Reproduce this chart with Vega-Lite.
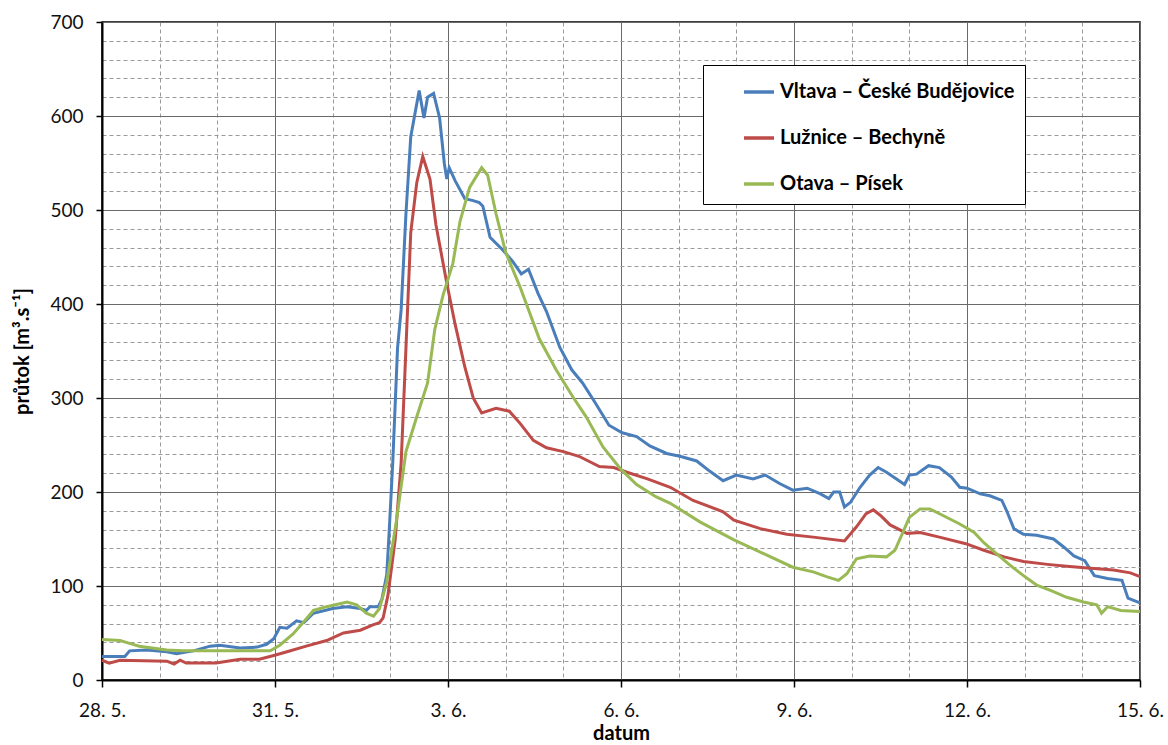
{
  "$schema": "https://vega.github.io/schema/vega-lite/v6.json",
  "width": 1038,
  "height": 658,
  "autosize": {"type": "none"},
  "padding": {"left": 102, "top": 22, "right": 28, "bottom": 65},
  "background": "white",
  "config": {
    "font": "Lato",
    "view": {"stroke": "#000", "strokeWidth": 1.5},
    "axis": {"labelFont": "Lato", "labelFontSize": 19, "labelColor": "#111", "titleFont": "Lato", "titleFontSize": 20, "titleFontWeight": "bold", "titleColor": "#000"},
    "legend": {"labelFont": "Lato"}
  },
  "data": {"values": [
    {"s": "Vltava – České Budějovice", "t": "2013-05-28T00:00", "q": 25},
    {"s": "Vltava – České Budějovice", "t": "2013-05-28T09:30", "q": 25},
    {"s": "Vltava – České Budějovice", "t": "2013-05-28T11:30", "q": 31},
    {"s": "Vltava – České Budějovice", "t": "2013-05-28T18:30", "q": 32},
    {"s": "Vltava – České Budějovice", "t": "2013-05-29T03:00", "q": 30},
    {"s": "Vltava – České Budějovice", "t": "2013-05-29T07:00", "q": 28},
    {"s": "Vltava – České Budějovice", "t": "2013-05-29T14:00", "q": 31},
    {"s": "Vltava – České Budějovice", "t": "2013-05-29T21:00", "q": 36},
    {"s": "Vltava – České Budějovice", "t": "2013-05-30T01:00", "q": 37},
    {"s": "Vltava – České Budějovice", "t": "2013-05-30T09:30", "q": 34},
    {"s": "Vltava – České Budějovice", "t": "2013-05-30T16:30", "q": 35},
    {"s": "Vltava – České Budějovice", "t": "2013-05-30T20:30", "q": 38},
    {"s": "Vltava – České Budějovice", "t": "2013-05-30T23:30", "q": 44},
    {"s": "Vltava – České Budějovice", "t": "2013-05-31T02:00", "q": 56},
    {"s": "Vltava – České Budějovice", "t": "2013-05-31T05:00", "q": 55},
    {"s": "Vltava – České Budějovice", "t": "2013-05-31T09:00", "q": 63},
    {"s": "Vltava – České Budějovice", "t": "2013-05-31T12:00", "q": 61},
    {"s": "Vltava – České Budějovice", "t": "2013-05-31T16:00", "q": 71},
    {"s": "Vltava – České Budějovice", "t": "2013-06-01T00:00", "q": 76},
    {"s": "Vltava – České Budějovice", "t": "2013-06-01T06:00", "q": 78},
    {"s": "Vltava – České Budějovice", "t": "2013-06-01T11:30", "q": 76},
    {"s": "Vltava – České Budějovice", "t": "2013-06-01T14:00", "q": 74},
    {"s": "Vltava – České Budějovice", "t": "2013-06-01T15:30", "q": 78},
    {"s": "Vltava – České Budějovice", "t": "2013-06-01T19:00", "q": 78},
    {"s": "Vltava – České Budějovice", "t": "2013-06-01T20:30", "q": 86},
    {"s": "Vltava – České Budějovice", "t": "2013-06-01T22:30", "q": 112},
    {"s": "Vltava – České Budějovice", "t": "2013-06-01T23:30", "q": 157},
    {"s": "Vltava – České Budějovice", "t": "2013-06-02T01:00", "q": 231},
    {"s": "Vltava – České Budějovice", "t": "2013-06-02T03:00", "q": 353},
    {"s": "Vltava – České Budějovice", "t": "2013-06-02T04:30", "q": 394},
    {"s": "Vltava – České Budějovice", "t": "2013-06-02T06:30", "q": 496},
    {"s": "Vltava – České Budějovice", "t": "2013-06-02T08:30", "q": 578},
    {"s": "Vltava – České Budějovice", "t": "2013-06-02T10:30", "q": 606},
    {"s": "Vltava – České Budějovice", "t": "2013-06-02T12:00", "q": 627},
    {"s": "Vltava – České Budějovice", "t": "2013-06-02T14:00", "q": 598},
    {"s": "Vltava – České Budějovice", "t": "2013-06-02T15:30", "q": 620},
    {"s": "Vltava – České Budějovice", "t": "2013-06-02T18:00", "q": 624},
    {"s": "Vltava – České Budějovice", "t": "2013-06-02T20:30", "q": 598},
    {"s": "Vltava – České Budějovice", "t": "2013-06-02T22:30", "q": 549},
    {"s": "Vltava – České Budějovice", "t": "2013-06-02T23:30", "q": 533},
    {"s": "Vltava – České Budějovice", "t": "2013-06-03T00:30", "q": 545},
    {"s": "Vltava – České Budějovice", "t": "2013-06-03T03:00", "q": 531},
    {"s": "Vltava – České Budějovice", "t": "2013-06-03T07:00", "q": 512},
    {"s": "Vltava – České Budějovice", "t": "2013-06-03T10:30", "q": 510},
    {"s": "Vltava – České Budějovice", "t": "2013-06-03T13:00", "q": 508},
    {"s": "Vltava – České Budějovice", "t": "2013-06-03T14:30", "q": 504},
    {"s": "Vltava – České Budějovice", "t": "2013-06-03T17:30", "q": 471},
    {"s": "Vltava – České Budějovice", "t": "2013-06-03T23:00", "q": 457},
    {"s": "Vltava – České Budějovice", "t": "2013-06-04T03:00", "q": 445},
    {"s": "Vltava – České Budějovice", "t": "2013-06-04T06:30", "q": 432},
    {"s": "Vltava – České Budějovice", "t": "2013-06-04T09:30", "q": 437},
    {"s": "Vltava – České Budějovice", "t": "2013-06-04T13:30", "q": 411},
    {"s": "Vltava – České Budějovice", "t": "2013-06-04T17:00", "q": 392},
    {"s": "Vltava – České Budějovice", "t": "2013-06-04T22:30", "q": 354},
    {"s": "Vltava – České Budějovice", "t": "2013-06-05T03:30", "q": 330},
    {"s": "Vltava – České Budějovice", "t": "2013-06-05T08:00", "q": 316},
    {"s": "Vltava – České Budějovice", "t": "2013-06-05T13:00", "q": 296},
    {"s": "Vltava – České Budějovice", "t": "2013-06-05T19:00", "q": 271},
    {"s": "Vltava – České Budějovice", "t": "2013-06-06T00:30", "q": 263},
    {"s": "Vltava – České Budějovice", "t": "2013-06-06T06:30", "q": 259},
    {"s": "Vltava – České Budějovice", "t": "2013-06-06T12:00", "q": 249},
    {"s": "Vltava – České Budějovice", "t": "2013-06-06T19:00", "q": 241},
    {"s": "Vltava – České Budějovice", "t": "2013-06-07T00:30", "q": 238},
    {"s": "Vltava – České Budějovice", "t": "2013-06-07T07:30", "q": 233},
    {"s": "Vltava – České Budějovice", "t": "2013-06-07T13:00", "q": 222},
    {"s": "Vltava – České Budějovice", "t": "2013-06-07T18:30", "q": 212},
    {"s": "Vltava – České Budějovice", "t": "2013-06-08T00:00", "q": 218},
    {"s": "Vltava – České Budějovice", "t": "2013-06-08T07:00", "q": 214},
    {"s": "Vltava – České Budějovice", "t": "2013-06-08T12:00", "q": 218},
    {"s": "Vltava – České Budějovice", "t": "2013-06-08T18:00", "q": 209},
    {"s": "Vltava – České Budějovice", "t": "2013-06-08T23:30", "q": 202},
    {"s": "Vltava – České Budějovice", "t": "2013-06-09T05:30", "q": 204},
    {"s": "Vltava – České Budějovice", "t": "2013-06-09T11:00", "q": 198},
    {"s": "Vltava – České Budějovice", "t": "2013-06-09T14:30", "q": 193},
    {"s": "Vltava – České Budějovice", "t": "2013-06-09T16:30", "q": 200},
    {"s": "Vltava – České Budějovice", "t": "2013-06-09T19:00", "q": 200},
    {"s": "Vltava – České Budějovice", "t": "2013-06-09T21:00", "q": 184},
    {"s": "Vltava – České Budějovice", "t": "2013-06-09T23:30", "q": 189},
    {"s": "Vltava – České Budějovice", "t": "2013-06-10T03:30", "q": 205},
    {"s": "Vltava – České Budějovice", "t": "2013-06-10T07:30", "q": 218},
    {"s": "Vltava – České Budějovice", "t": "2013-06-10T11:00", "q": 226},
    {"s": "Vltava – České Budějovice", "t": "2013-06-10T14:30", "q": 221},
    {"s": "Vltava – České Budějovice", "t": "2013-06-10T18:30", "q": 214},
    {"s": "Vltava – České Budějovice", "t": "2013-06-10T22:00", "q": 208},
    {"s": "Vltava – České Budějovice", "t": "2013-06-11T00:00", "q": 218},
    {"s": "Vltava – České Budějovice", "t": "2013-06-11T03:00", "q": 219},
    {"s": "Vltava – České Budějovice", "t": "2013-06-11T08:00", "q": 228},
    {"s": "Vltava – České Budějovice", "t": "2013-06-11T12:30", "q": 226},
    {"s": "Vltava – České Budějovice", "t": "2013-06-11T17:30", "q": 216},
    {"s": "Vltava – České Budějovice", "t": "2013-06-11T21:00", "q": 205},
    {"s": "Vltava – České Budějovice", "t": "2013-06-12T00:00", "q": 204},
    {"s": "Vltava – České Budějovice", "t": "2013-06-12T05:30", "q": 198},
    {"s": "Vltava – České Budějovice", "t": "2013-06-12T09:30", "q": 196},
    {"s": "Vltava – České Budějovice", "t": "2013-06-12T14:30", "q": 191},
    {"s": "Vltava – České Budějovice", "t": "2013-06-12T16:30", "q": 180},
    {"s": "Vltava – České Budějovice", "t": "2013-06-12T19:30", "q": 161},
    {"s": "Vltava – České Budějovice", "t": "2013-06-12T23:30", "q": 155},
    {"s": "Vltava – České Budějovice", "t": "2013-06-13T05:00", "q": 154},
    {"s": "Vltava – České Budějovice", "t": "2013-06-13T12:00", "q": 150},
    {"s": "Vltava – České Budějovice", "t": "2013-06-13T16:30", "q": 141},
    {"s": "Vltava – České Budějovice", "t": "2013-06-13T20:30", "q": 132},
    {"s": "Vltava – České Budějovice", "t": "2013-06-14T01:00", "q": 127},
    {"s": "Vltava – České Budějovice", "t": "2013-06-14T05:00", "q": 111},
    {"s": "Vltava – České Budějovice", "t": "2013-06-14T10:30", "q": 108},
    {"s": "Vltava – České Budějovice", "t": "2013-06-14T16:30", "q": 106},
    {"s": "Vltava – České Budějovice", "t": "2013-06-14T19:00", "q": 87},
    {"s": "Vltava – České Budějovice", "t": "2013-06-15T00:00", "q": 82},

    {"s": "Lužnice – Bechyně", "t": "2013-05-28T00:00", "q": 21},
    {"s": "Lužnice – Bechyně", "t": "2013-05-28T03:00", "q": 18},
    {"s": "Lužnice – Bechyně", "t": "2013-05-28T07:30", "q": 21},
    {"s": "Lužnice – Bechyně", "t": "2013-05-29T03:00", "q": 20},
    {"s": "Lužnice – Bechyně", "t": "2013-05-29T06:00", "q": 17},
    {"s": "Lužnice – Bechyně", "t": "2013-05-29T08:30", "q": 21},
    {"s": "Lužnice – Bechyně", "t": "2013-05-29T11:00", "q": 18},
    {"s": "Lužnice – Bechyně", "t": "2013-05-29T23:30", "q": 18},
    {"s": "Lužnice – Bechyně", "t": "2013-05-30T09:30", "q": 22},
    {"s": "Lužnice – Bechyně", "t": "2013-05-30T17:30", "q": 22},
    {"s": "Lužnice – Bechyně", "t": "2013-05-30T23:30", "q": 26},
    {"s": "Lužnice – Bechyně", "t": "2013-05-31T05:00", "q": 30},
    {"s": "Lužnice – Bechyně", "t": "2013-05-31T13:00", "q": 36},
    {"s": "Lužnice – Bechyně", "t": "2013-05-31T21:30", "q": 42},
    {"s": "Lužnice – Bechyně", "t": "2013-06-01T04:30", "q": 50},
    {"s": "Lužnice – Bechyně", "t": "2013-06-01T11:30", "q": 53},
    {"s": "Lužnice – Bechyně", "t": "2013-06-01T17:00", "q": 59},
    {"s": "Lužnice – Bechyně", "t": "2013-06-01T19:30", "q": 61},
    {"s": "Lužnice – Bechyně", "t": "2013-06-01T21:00", "q": 66},
    {"s": "Lužnice – Bechyně", "t": "2013-06-01T23:00", "q": 90},
    {"s": "Lužnice – Bechyně", "t": "2013-06-02T02:00", "q": 149},
    {"s": "Lužnice – Bechyně", "t": "2013-06-02T04:30", "q": 231},
    {"s": "Lužnice – Bechyně", "t": "2013-06-02T06:30", "q": 353},
    {"s": "Lužnice – Bechyně", "t": "2013-06-02T08:30", "q": 476},
    {"s": "Lužnice – Bechyně", "t": "2013-06-02T11:00", "q": 529},
    {"s": "Lužnice – Bechyně", "t": "2013-06-02T13:30", "q": 557},
    {"s": "Lužnice – Bechyně", "t": "2013-06-02T16:30", "q": 533},
    {"s": "Lužnice – Bechyně", "t": "2013-06-02T19:00", "q": 484},
    {"s": "Lužnice – Bechyně", "t": "2013-06-02T23:30", "q": 422},
    {"s": "Lužnice – Bechyně", "t": "2013-06-03T03:00", "q": 378},
    {"s": "Lužnice – Bechyně", "t": "2013-06-03T07:00", "q": 333},
    {"s": "Lužnice – Bechyně", "t": "2013-06-03T10:30", "q": 300},
    {"s": "Lužnice – Bechyně", "t": "2013-06-03T14:00", "q": 284},
    {"s": "Lužnice – Bechyně", "t": "2013-06-03T20:00", "q": 289},
    {"s": "Lužnice – Bechyně", "t": "2013-06-04T01:30", "q": 286},
    {"s": "Lužnice – Bechyně", "t": "2013-06-04T06:00", "q": 273},
    {"s": "Lužnice – Bechyně", "t": "2013-06-04T11:30", "q": 255},
    {"s": "Lužnice – Bechyně", "t": "2013-06-04T17:00", "q": 247},
    {"s": "Lužnice – Bechyně", "t": "2013-06-05T00:00", "q": 243},
    {"s": "Lužnice – Bechyně", "t": "2013-06-05T06:30", "q": 238},
    {"s": "Lužnice – Bechyně", "t": "2013-06-05T15:00", "q": 227},
    {"s": "Lužnice – Bechyně", "t": "2013-06-05T21:00", "q": 226},
    {"s": "Lužnice – Bechyně", "t": "2013-06-06T02:30", "q": 221},
    {"s": "Lužnice – Bechyně", "t": "2013-06-06T11:00", "q": 214},
    {"s": "Lužnice – Bechyně", "t": "2013-06-06T20:30", "q": 205},
    {"s": "Lužnice – Bechyně", "t": "2013-06-07T06:00", "q": 191},
    {"s": "Lužnice – Bechyně", "t": "2013-06-07T18:30", "q": 179},
    {"s": "Lužnice – Bechyně", "t": "2013-06-07T23:00", "q": 170},
    {"s": "Lužnice – Bechyně", "t": "2013-06-08T10:00", "q": 161},
    {"s": "Lužnice – Bechyně", "t": "2013-06-08T21:00", "q": 155},
    {"s": "Lužnice – Bechyně", "t": "2013-06-09T08:00", "q": 152},
    {"s": "Lužnice – Bechyně", "t": "2013-06-09T21:00", "q": 148},
    {"s": "Lužnice – Bechyně", "t": "2013-06-10T02:00", "q": 163},
    {"s": "Lužnice – Bechyně", "t": "2013-06-10T06:00", "q": 177},
    {"s": "Lužnice – Bechyně", "t": "2013-06-10T09:00", "q": 181},
    {"s": "Lužnice – Bechyně", "t": "2013-06-10T12:00", "q": 175},
    {"s": "Lužnice – Bechyně", "t": "2013-06-10T16:00", "q": 165},
    {"s": "Lužnice – Bechyně", "t": "2013-06-10T23:00", "q": 156},
    {"s": "Lužnice – Bechyně", "t": "2013-06-11T04:30", "q": 157},
    {"s": "Lužnice – Bechyně", "t": "2013-06-11T12:30", "q": 152},
    {"s": "Lužnice – Bechyně", "t": "2013-06-11T23:30", "q": 145},
    {"s": "Lužnice – Bechyně", "t": "2013-06-12T07:00", "q": 138},
    {"s": "Lužnice – Bechyně", "t": "2013-06-12T15:30", "q": 131},
    {"s": "Lužnice – Bechyně", "t": "2013-06-12T23:30", "q": 126},
    {"s": "Lužnice – Bechyně", "t": "2013-06-13T09:30", "q": 123},
    {"s": "Lužnice – Bechyně", "t": "2013-06-13T17:30", "q": 121},
    {"s": "Lužnice – Bechyně", "t": "2013-06-14T03:30", "q": 119},
    {"s": "Lužnice – Bechyně", "t": "2013-06-14T13:00", "q": 117},
    {"s": "Lužnice – Bechyně", "t": "2013-06-14T20:00", "q": 114},
    {"s": "Lužnice – Bechyně", "t": "2013-06-15T00:00", "q": 110},

    {"s": "Otava – Písek", "t": "2013-05-28T00:00", "q": 43},
    {"s": "Otava – Písek", "t": "2013-05-28T07:30", "q": 42},
    {"s": "Otava – Písek", "t": "2013-05-28T11:30", "q": 39},
    {"s": "Otava – Písek", "t": "2013-05-28T15:30", "q": 36},
    {"s": "Otava – Písek", "t": "2013-05-29T03:00", "q": 32},
    {"s": "Otava – Písek", "t": "2013-05-29T09:30", "q": 31},
    {"s": "Otava – Písek", "t": "2013-05-29T23:30", "q": 31},
    {"s": "Otava – Písek", "t": "2013-05-30T13:30", "q": 31},
    {"s": "Otava – Písek", "t": "2013-05-30T22:00", "q": 31},
    {"s": "Otava – Písek", "t": "2013-05-31T02:00", "q": 37},
    {"s": "Otava – Písek", "t": "2013-05-31T07:30", "q": 49},
    {"s": "Otava – Písek", "t": "2013-05-31T12:00", "q": 62},
    {"s": "Otava – Písek", "t": "2013-05-31T16:00", "q": 74},
    {"s": "Otava – Písek", "t": "2013-05-31T21:30", "q": 78},
    {"s": "Otava – Písek", "t": "2013-06-01T06:00", "q": 83},
    {"s": "Otava – Písek", "t": "2013-06-01T10:00", "q": 80},
    {"s": "Otava – Písek", "t": "2013-06-01T14:00", "q": 71},
    {"s": "Otava – Písek", "t": "2013-06-01T17:00", "q": 68},
    {"s": "Otava – Písek", "t": "2013-06-01T19:30", "q": 76},
    {"s": "Otava – Písek", "t": "2013-06-01T22:30", "q": 104},
    {"s": "Otava – Písek", "t": "2013-06-02T02:30", "q": 169},
    {"s": "Otava – Písek", "t": "2013-06-02T06:30", "q": 243},
    {"s": "Otava – Písek", "t": "2013-06-02T11:00", "q": 280},
    {"s": "Otava – Písek", "t": "2013-06-02T15:30", "q": 316},
    {"s": "Otava – Písek", "t": "2013-06-02T18:30", "q": 373},
    {"s": "Otava – Písek", "t": "2013-06-02T22:00", "q": 410},
    {"s": "Otava – Písek", "t": "2013-06-03T02:00", "q": 443},
    {"s": "Otava – Písek", "t": "2013-06-03T05:00", "q": 488},
    {"s": "Otava – Písek", "t": "2013-06-03T09:00", "q": 524},
    {"s": "Otava – Písek", "t": "2013-06-03T14:00", "q": 545},
    {"s": "Otava – Písek", "t": "2013-06-03T16:30", "q": 537},
    {"s": "Otava – Písek", "t": "2013-06-03T20:00", "q": 496},
    {"s": "Otava – Písek", "t": "2013-06-04T00:00", "q": 455},
    {"s": "Otava – Písek", "t": "2013-06-04T06:00", "q": 418},
    {"s": "Otava – Písek", "t": "2013-06-04T14:00", "q": 363},
    {"s": "Otava – Písek", "t": "2013-06-04T21:00", "q": 330},
    {"s": "Otava – Písek", "t": "2013-06-05T04:00", "q": 301},
    {"s": "Otava – Písek", "t": "2013-06-05T09:30", "q": 280},
    {"s": "Otava – Písek", "t": "2013-06-05T16:30", "q": 248},
    {"s": "Otava – Písek", "t": "2013-06-06T00:00", "q": 224},
    {"s": "Otava – Písek", "t": "2013-06-06T06:30", "q": 208},
    {"s": "Otava – Písek", "t": "2013-06-06T14:30", "q": 195},
    {"s": "Otava – Písek", "t": "2013-06-06T20:30", "q": 188},
    {"s": "Otava – Písek", "t": "2013-06-07T09:00", "q": 168},
    {"s": "Otava – Písek", "t": "2013-06-07T23:00", "q": 149},
    {"s": "Otava – Písek", "t": "2013-06-08T12:30", "q": 133},
    {"s": "Otava – Písek", "t": "2013-06-08T23:30", "q": 120},
    {"s": "Otava – Písek", "t": "2013-06-09T08:00", "q": 115},
    {"s": "Otava – Písek", "t": "2013-06-09T13:30", "q": 110},
    {"s": "Otava – Písek", "t": "2013-06-09T18:30", "q": 106},
    {"s": "Otava – Písek", "t": "2013-06-09T22:00", "q": 113},
    {"s": "Otava – Písek", "t": "2013-06-10T02:00", "q": 129},
    {"s": "Otava – Písek", "t": "2013-06-10T07:30", "q": 132},
    {"s": "Otava – Písek", "t": "2013-06-10T14:30", "q": 131},
    {"s": "Otava – Písek", "t": "2013-06-10T18:00", "q": 138},
    {"s": "Otava – Písek", "t": "2013-06-10T21:30", "q": 158},
    {"s": "Otava – Písek", "t": "2013-06-11T00:00", "q": 173},
    {"s": "Otava – Písek", "t": "2013-06-11T04:30", "q": 182},
    {"s": "Otava – Písek", "t": "2013-06-11T08:30", "q": 182},
    {"s": "Otava – Písek", "t": "2013-06-11T14:00", "q": 175},
    {"s": "Otava – Písek", "t": "2013-06-11T21:00", "q": 166},
    {"s": "Otava – Písek", "t": "2013-06-12T03:00", "q": 157},
    {"s": "Otava – Písek", "t": "2013-06-12T07:00", "q": 146},
    {"s": "Otava – Písek", "t": "2013-06-12T12:30", "q": 134},
    {"s": "Otava – Písek", "t": "2013-06-12T18:00", "q": 122},
    {"s": "Otava – Písek", "t": "2013-06-12T23:30", "q": 111},
    {"s": "Otava – Písek", "t": "2013-06-13T05:00", "q": 101},
    {"s": "Otava – Písek", "t": "2013-06-13T11:00", "q": 95},
    {"s": "Otava – Písek", "t": "2013-06-13T17:30", "q": 88},
    {"s": "Otava – Písek", "t": "2013-06-14T00:30", "q": 83},
    {"s": "Otava – Písek", "t": "2013-06-14T06:00", "q": 80},
    {"s": "Otava – Písek", "t": "2013-06-14T08:00", "q": 71},
    {"s": "Otava – Písek", "t": "2013-06-14T10:30", "q": 78},
    {"s": "Otava – Písek", "t": "2013-06-14T16:00", "q": 74},
    {"s": "Otava – Písek", "t": "2013-06-15T00:00", "q": 73}
  ]},
  "resolve": {"axis": {"x": "independent", "y": "independent"}},
  "layer": [
    {
      "mark": {"type": "line", "opacity": 0},
      "encoding": {
        "x": {"field": "t", "type": "temporal",
          "scale": {"domain": [{"year": 2013, "month": 5, "date": 28}, {"year": 2013, "month": 6, "date": 15}], "nice": false},
          "axis": {"values": [
            {"year": 2013, "month": 5, "date": 29}, {"year": 2013, "month": 5, "date": 30},
            {"year": 2013, "month": 6, "date": 1}, {"year": 2013, "month": 6, "date": 2},
            {"year": 2013, "month": 6, "date": 4}, {"year": 2013, "month": 6, "date": 5},
            {"year": 2013, "month": 6, "date": 7}, {"year": 2013, "month": 6, "date": 8},
            {"year": 2013, "month": 6, "date": 10}, {"year": 2013, "month": 6, "date": 11},
            {"year": 2013, "month": 6, "date": 13}, {"year": 2013, "month": 6, "date": 14}],
            "grid": true, "gridDash": [4, 3], "gridColor": "#9a9a9a", "gridWidth": 1,
            "labels": false, "ticks": false, "domain": false, "title": null}},
        "y": {"field": "q", "type": "quantitative",
          "scale": {"domain": [0, 700], "nice": false},
          "axis": {"values": [20, 40, 60, 80, 120, 140, 160, 180, 220, 240, 260, 280, 320, 340, 360, 380, 420, 440, 460, 480, 520, 540, 560, 580, 620, 640, 660, 680],
            "grid": true, "gridDash": [4, 3], "gridColor": "#9a9a9a", "gridWidth": 1,
            "labels": false, "ticks": false, "domain": false, "title": null}}
      }
    },
    {
      "mark": {"type": "line", "strokeWidth": 3, "interpolate": "linear"},
      "encoding": {
        "x": {"field": "t", "type": "temporal",
          "axis": {"orient": "bottom", "values": [
            {"year": 2013, "month": 5, "date": 28}, {"year": 2013, "month": 5, "date": 31},
            {"year": 2013, "month": 6, "date": 3}, {"year": 2013, "month": 6, "date": 6},
            {"year": 2013, "month": 6, "date": 9}, {"year": 2013, "month": 6, "date": 12},
            {"year": 2013, "month": 6, "date": 15}],
            "format": "%-d. %-m.", "labelFlush": false, "labelOverlap": false,
            "grid": true, "gridColor": "#6a6a6a", "gridWidth": 1,
            "domainColor": "#000", "domainWidth": 2, "tickColor": "#000", "tickSize": 7, "tickWidth": 1.5,
            "labelPadding": 14, "title": "datum", "titlePadding": 3}},
        "y": {"field": "q", "type": "quantitative",
          "axis": {"orient": "left", "values": [0, 100, 200, 300, 400, 500, 600, 700],
            "grid": true, "gridColor": "#6a6a6a", "gridWidth": 1,
            "domainColor": "#000", "domainWidth": 2, "tickColor": "#000", "tickSize": 6, "tickWidth": 1.5,
            "labelPadding": 13, "title": "průtok [m³.s⁻¹]", "titlePadding": 17}},
        "color": {"field": "s", "type": "nominal",
          "scale": {"domain": ["Vltava – České Budějovice", "Lužnice – Bechyně", "Otava – Písek"], "range": ["#4A7EBB", "#BE4B48", "#98B954"]},
          "legend": {"title": null, "orient": "none", "legendX": 601, "legendY": 43,
            "fillColor": "white", "strokeColor": "#000", "padding": 10,
            "symbolType": "stroke", "symbolSize": 900, "symbolStrokeWidth": 3.5, "symbolOffset": 29,
            "labelFontSize": 20, "labelFontWeight": "bold", "labelColor": "#000", "labelOffset": 4,
            "labelExpr": "datum.label + '\u00a0\u00a0\u00a0\u00a0\u00a0\u00a0'",
            "rowPadding": 19, "labelLimit": 400}}
      }
    }
  ]
}
